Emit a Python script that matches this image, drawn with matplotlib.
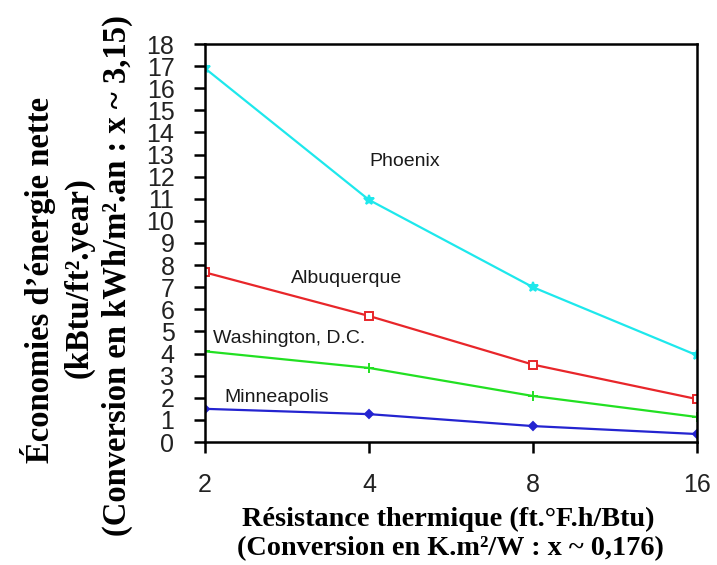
import matplotlib
matplotlib.use("Agg")
import matplotlib.pyplot as plt

resistance = [2, 4, 8, 16]
x_tick_labels = ["2", "4", "8", "16"]
y_ticks = list(range(0, 19))

cities = ["Phoenix", "Albuquerque", "Washington, D.C.", "Minneapolis"]
phoenix = [16.9, 10.95, 7.0, 3.92]
albuquerque = [7.67, 5.7, 3.5, 1.94]
washington = [4.1, 3.35, 2.08, 1.13]
minneapolis = [1.5, 1.26, 0.72, 0.36]

fig = plt.figure(figsize=(7.17, 5.65), dpi=100)
ax = fig.add_axes([205/717, 1-442/565, (697-205)/717, (442-44)/565])

series = [
    (phoenix, "#1ee8ec", "*", 7, None),
    (albuquerque, "#e8262a", "s", 6, "white"),
    (washington, "#22e022", "+", 7, None),
    (minneapolis, "#2424d0", "D", 4.5, None),
]
for vals, col, mk, ms, mfc in series:
    kw = dict(color=col, lw=1.6, marker=mk, markersize=ms, markeredgewidth=1.4)
    if mfc:
        kw["markerfacecolor"] = mfc
    ax.plot(resistance, vals, **kw)

ax.set_xscale("log", base=2)
ax.set_xlim(2, 16)
ax.set_ylim(0, 18)
ax.set_xticks(resistance)
ax.set_xticklabels(x_tick_labels)
ax.minorticks_off()
ax.set_yticks(y_ticks)
ax.set_yticklabels([str(v) for v in y_ticks])

for sp in ax.spines.values():
    sp.set_linewidth(1.8)
    sp.set_color("black")
ax.tick_params(axis="both", direction="out", length=8, width=1.8, color="black",
               labelsize=18, labelcolor="#222222")
ax.tick_params(axis="y", pad=14)
ax.tick_params(axis="x", pad=14)
for lab in ax.get_xticklabels() + ax.get_yticklabels():
    lab.set_fontfamily("Liberation Sans")

label_font = dict(family="Liberation Sans", fontsize=14, color="#1a1a1a")
ax.text(4.0, 12.7, cities[0], **label_font, va="center", ha="left")
ax.text(2.88, 7.4, cities[1], **label_font, va="center", ha="left")
ax.text(2.07, 4.7, cities[2], **label_font, va="center", ha="left")
ax.text(2.17, 2.03, cities[3], **label_font, va="center", ha="left")

serif = dict(family="Liberation Serif", fontweight="bold", fontsize=23.5, color="black")
fig.text(38/717, 1-280/565, "Économies d’énergie nette", rotation=90, ha="center", va="center", **serif)
fig.text(79/717, 1-278/565, "(kBtu/ft².year)", rotation=90, ha="center", va="center", **serif)
fig.text(117/717, 1-276/565, "(Conversion en kWh/m².an : x ~ 3,15)", rotation=90, ha="center", va="center", **serif)

serifx = dict(family="Liberation Serif", fontweight="bold", fontsize=20.3, color="black")
fig.text(448/717, 1-519/565, "Résistance thermique (ft.°F.h/Btu)", ha="center", va="center", **serifx)
fig.text(450/717, 1-549/565, "(Conversion en K.m²/W : x ~ 0,176)", ha="center", va="center", **serifx)

fig.savefig("out.png", dpi=100)
